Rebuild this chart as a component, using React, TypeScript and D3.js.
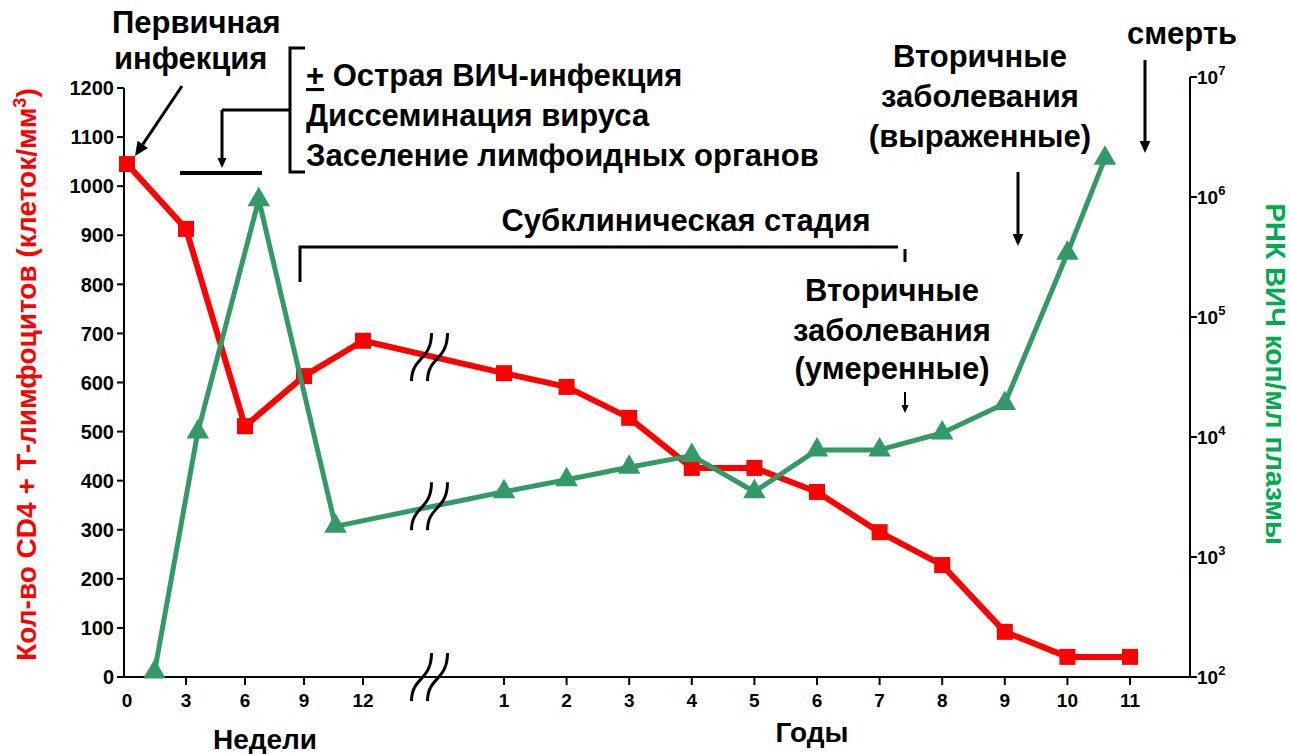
import React from "react"
import * as d3 from "d3"

// x positions: weeks for the first segment, years after the axis break
const weekTicks = [0, 3, 6, 9, 12]
const yearTicks = [1, 2, 3, 4, 5, 6, 7, 8, 9, 10, 11]
const leftTicks = [0, 100, 200, 300, 400, 500, 600, 700, 800, 900, 1000, 1100, 1200]
const rightTicks = [2, 3, 4, 5, 6, 7]

// CD4+ T cells (cells/mm3)
const cd4Weeks = [0, 3, 6, 9, 12]
const cd4WeekValues = [1045, 913, 511, 613, 685]
const cd4Years = [1, 2, 3, 4, 5, 6, 7, 8, 9, 10, 11]
const cd4YearValues = [619, 591, 528, 426, 426, 377, 295, 228, 92, 41, 41]

// HIV RNA copies/ml plasma
const rnaWeeks = [1.4, 3.6, 6.7, 10.6]
const rnaWeekValues = [110, 11000, 950000, 1800]
const rnaYears = [1, 2, 3, 4, 5, 6, 7, 8, 9, 10, 10.6]
const rnaYearValues = [3500, 4400, 5600, 7000, 3500, 7800, 7800, 10800, 19000, 340000, 2100000]

const RED = "#ff0000"
const GREEN = "#339966"
const TITLE_GREEN = "#00aa50"
const FONT = "'Liberation Sans', Arial, sans-serif"

export default function App() {
  const xW = d3.scaleLinear().domain([0, 12]).range([127, 363])
  const xY = d3.scaleLinear().domain([1, 11]).range([504, 1130])
  const yL = d3.scaleLinear().domain([0, 1200]).range([677, 88])
  const yR = d3.scaleLog().domain([1e2, 1e7]).range([677, 77])

  const axisLeft = 124
  const axisRight = 1190
  const axisY = yL(0)
  const breakX = (xW(12) + xY(1)) / 2

  const cd4Pts: [number, number][] = [
    ...cd4Weeks.map((w, i) => [xW(w), yL(cd4WeekValues[i])] as [number, number]),
    ...cd4Years.map((y, i) => [xY(y), yL(cd4YearValues[i])] as [number, number]),
  ]
  const rnaPts: [number, number][] = [
    ...rnaWeeks.map((w, i) => [xW(w), yR(rnaWeekValues[i])] as [number, number]),
    ...rnaYears.map((y, i) => [xY(y), yR(rnaYearValues[i])] as [number, number]),
  ]

  const line = d3.line()
  const tri = d3.symbol().type(d3.symbolTriangle).size(220)()

  // y where a series crosses the break
  const crossAt = (pts: [number, number][], x: number) => {
    for (let i = 0; i < pts.length - 1; i++) {
      const [x0, y0] = pts[i]
      const [x1, y1] = pts[i + 1]
      if (x >= x0 && x <= x1) return y0 + ((y1 - y0) * (x - x0)) / (x1 - x0)
    }
    return 0
  }

  const breakMark = (cx: number, cy: number, key: string) => (
    <g key={key} transform={`translate(${cx},${cy})`} fill="none" stroke="#000" strokeWidth={3}>
      <path d="M-22,24 C-22,0 -2,4 -2,-24" />
      <path d="M-6,24 C-6,0 14,4 14,-24" />
    </g>
  )

  const arrow = (x1: number, y1: number, x2: number, y2: number, w: number, head: number) => {
    const a = Math.atan2(y2 - y1, x2 - x1)
    const bx = x2 - head * Math.cos(a)
    const by = y2 - head * Math.sin(a)
    const px = Math.sin(a) * head * 0.45
    const py = -Math.cos(a) * head * 0.45
    return (
      <g>
        <line x1={x1} y1={y1} x2={bx} y2={by} stroke="#000" strokeWidth={w} />
        <polygon points={`${x2},${y2} ${bx + px},${by + py} ${bx - px},${by - py}`} fill="#000" />
      </g>
    )
  }

  const big = { fontFamily: FONT, fontWeight: 700, fontSize: 31, fill: "#000" } as const

  return (
    <svg width={1290} height={754} style={{ position: "absolute", left: 0, top: 0, background: "#fff" }}>
      {/* left axis */}
      <line x1={axisLeft} y1={yL(1200)} x2={axisLeft} y2={axisY} stroke="#000" strokeWidth={2} />
      {leftTicks.map((t) => (
        <g key={t}>
          <line x1={axisLeft - 7} x2={axisLeft} y1={yL(t)} y2={yL(t)} stroke="#000" strokeWidth={2} />
          <text x={axisLeft - 10} y={yL(t)} dy="0.36em" textAnchor="end" fontFamily={FONT} fontWeight={700} fontSize={20}>
            {t}
          </text>
        </g>
      ))}

      {/* right axis */}
      <line x1={axisRight} y1={yR(1e7)} x2={axisRight} y2={axisY} stroke="#000" strokeWidth={2} />
      {rightTicks.map((p) => (
        <g key={p}>
          <line x1={axisRight} x2={axisRight + 7} y1={yR(10 ** p)} y2={yR(10 ** p)} stroke="#000" strokeWidth={2} />
          <text x={axisRight + 7} y={yR(10 ** p)} dy="0.36em" fontFamily={FONT} fontWeight={700} fontSize={19}>
            10
            <tspan dy={-9} fontSize={13}>
              {p}
            </tspan>
          </text>
        </g>
      ))}

      {/* bottom axis */}
      <line x1={axisLeft} y1={axisY} x2={axisRight} y2={axisY} stroke="#000" strokeWidth={2} />
      {weekTicks.map((t) => (
        <g key={"w" + t}>
          {t > 0 && <line x1={xW(t)} x2={xW(t)} y1={axisY} y2={axisY + 8} stroke="#000" strokeWidth={2} />}
          <text x={xW(t)} y={axisY + 30} textAnchor="middle" fontFamily={FONT} fontWeight={700} fontSize={19}>
            {t}
          </text>
        </g>
      ))}
      {yearTicks.map((t) => (
        <g key={"y" + t}>
          <line x1={xY(t)} x2={xY(t)} y1={axisY} y2={axisY + 8} stroke="#000" strokeWidth={2} />
          <text x={xY(t)} y={axisY + 30} textAnchor="middle" fontFamily={FONT} fontWeight={700} fontSize={19}>
            {t}
          </text>
        </g>
      ))}
      <text x={265} y={749} textAnchor="middle" fontFamily={FONT} fontWeight={700} fontSize={28}>
        Недели
      </text>
      <text x={812} y={742} textAnchor="middle" fontFamily={FONT} fontWeight={700} fontSize={28}>
        Годы
      </text>

      {/* axis titles */}
      <text
        transform={`translate(36,${(yL(1200) + axisY) / 2 - 8}) rotate(-90)`}
        textAnchor="middle"
        fontFamily={FONT}
        fontWeight={700}
        fontSize={28}
        fill={RED}
      >
        Кол-во CD4 + Т-лимфоцитов (клеток/мм
        <tspan dy={-10} fontSize={18}>
          3
        </tspan>
        <tspan dy={10}>)</tspan>
      </text>
      <text
        transform={`translate(1266,374) rotate(90)`}
        textAnchor="middle"
        fontFamily={FONT}
        fontWeight={700}
        fontSize={28}
        fill={TITLE_GREEN}
      >
        РНК ВИЧ коп/мл плазмы
      </text>

      {/* series */}
      <path d={line(cd4Pts) ?? ""} fill="none" stroke={RED} strokeWidth={6} strokeLinejoin="round" />
      {cd4Pts.map(([x, y], i) => (
        <rect key={"r" + i} x={x - 8} y={y - 8} width={16} height={16} fill={RED} />
      ))}
      <path d={line(rnaPts) ?? ""} fill="none" stroke={GREEN} strokeWidth={5} strokeLinejoin="round" />
      {rnaPts.map(([x, y], i) => (
        <path key={"g" + i} d={tri ?? ""} transform={`translate(${x},${y})`} fill={GREEN} />
      ))}

      {/* axis breaks */}
      {breakMark(breakX, crossAt(cd4Pts, breakX), "b1")}
      {breakMark(breakX, crossAt(rnaPts, breakX), "b2")}
      {breakMark(breakX, axisY, "b3")}

      {/* primary infection */}
      <text x={112} y={33} {...big}>Первичная</text>
      <text x={114} y={69} {...big}>инфекция</text>
      {arrow(182, 86, 135, 156, 3, 14)}

      {/* acute phase bracket */}
      <path d="M305,48 H290 V172 H305" fill="none" stroke="#000" strokeWidth={3} />
      <path d="M290,110 H222" fill="none" stroke="#000" strokeWidth={3} />
      {arrow(222, 110, 222, 168, 3, 10)}
      <line x1={180} x2={262} y1={173} y2={173} stroke="#000" strokeWidth={4} />
      <text x={306} y={86} {...big}>
        <tspan textDecoration="underline">+</tspan> Острая ВИЧ-инфекция
      </text>
      <text x={306} y={126} {...big}>Диссеминация вируса</text>
      <text x={306} y={166} {...big}>Заселение лимфоидных органов</text>

      {/* subclinical */}
      <text x={686} y={231} textAnchor="middle" {...big}>Субклиническая стадия</text>
      <path d="M300,282 V247 H898" fill="none" stroke="#000" strokeWidth={3} />
      <line x1={905} x2={905} y1={249} y2={262} stroke="#000" strokeWidth={3} />

      {/* secondary moderate */}
      <text x={892} y={301} textAnchor="middle" {...big}>Вторичные</text>
      <text x={892} y={341} textAnchor="middle" {...big}>заболевания</text>
      <text x={892} y={379} textAnchor="middle" {...big}>(умеренные)</text>
      {arrow(905, 392, 905, 413, 2, 8)}

      {/* secondary severe */}
      <text x={980} y={67} textAnchor="middle" {...big}>Вторичные</text>
      <text x={980} y={107} textAnchor="middle" {...big}>заболевания</text>
      <text x={980} y={147} textAnchor="middle" {...big}>(выраженные)</text>
      {arrow(1018, 172, 1018, 246, 3, 12)}

      {/* death */}
      <text x={1182} y={44} textAnchor="middle" {...big}>смерть</text>
      {arrow(1145, 60, 1145, 153, 3, 12)}
    </svg>
  )
}
